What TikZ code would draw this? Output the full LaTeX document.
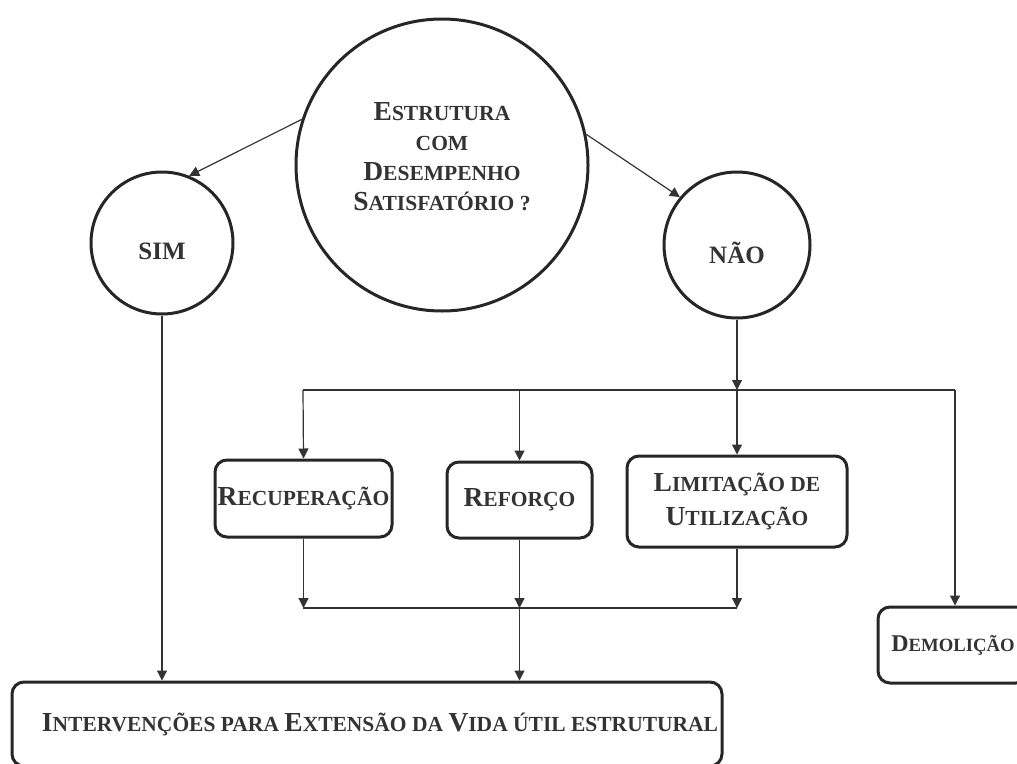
\documentclass[tikz,border=0pt]{standalone}
\usepackage{fontspec}
\setmainfont{Liberation Serif}
\usetikzlibrary{arrows.meta}
\newcommand\bigL[1]{{\fontsize{27.5}{30}\selectfont #1}}
\newcommand\smL[1]{{\fontsize{21.5}{30}\selectfont #1}}
\newcommand\lowered[1]{\raisebox{-8pt}[\height][\depth]{#1}}
\begin{document}
\begin{tikzpicture}[x=1pt,y=-1pt,
  ink/.style={draw=black!85},
  txt/.style={align=center, text=black!80, font=\bfseries\fontsize{21.5}{30}\selectfont, inner sep=0pt},
  bubble/.style={circle, ink, line width=3pt, inner sep=0pt, txt},
  rbox/.style={rectangle, rounded corners=12pt, ink, line width=3pt, txt},
  conn/.style={draw=black!80, line width=1.2pt},
  arr/.style={conn, -{Triangle[width=10pt,length=10pt]}}]
\fill[white] (0,0) rectangle (1017,763);
\clip (0,0) rectangle (1017,763);

\node[bubble, minimum size=292pt] (q) at (442,165) {};
\node[txt] (qtext) at (442,157) {\bigL{E}\smL{STRUTURA}\\ \smL{COM}\\ \bigL{D}\smL{ESEMPENHO}\\ \bigL{S}\smL{ATISFATÓRIO ?}};
\node[bubble, minimum size=142pt] (sim) at (162,243) {\lowered{\fontsize{25}{30}\selectfont SIM}};
\node[bubble, minimum size=146pt] (nao) at (737,245) {\lowered{\fontsize{25}{30}\selectfont NÃO}};

\node[rbox, minimum width=177pt, minimum height=77pt] (rec) at (303.5,498.5) {\bigL{R}\smL{ECUPERAÇÃO}};
\node[rbox, minimum width=145pt, minimum height=76pt] (ref) at (519.5,500) {\bigL{R}\smL{EFORÇO}};
\node[rbox, minimum width=220pt, minimum height=91pt] (lim) at (737,501.5) {\raisebox{4pt}{\bigL{L}\smL{IMITAÇÃO DE}}\\ \bigL{U}\smL{TILIZAÇÃO}};
\node[rbox, minimum width=150pt, minimum height=76pt] (dem) at (953,645) {{\fontsize{24}{30}\selectfont D}{\fontsize{18.7}{30}\selectfont EMOLIÇÃO}};
\node[rbox, minimum width=710pt, minimum height=84pt] (bot) at (367,724) {\hspace*{26pt}\bigL{I}\smL{NTERVENÇÕES PARA} \bigL{E}\smL{XTENSÃO DA} \bigL{V}\smL{IDA ÚTIL ESTRUTURAL}};

\coordinate (j1) at (737,390);
\coordinate (hl) at (303,390);
\coordinate (hr) at (955,390);
\coordinate (lj) at (303,608);
\coordinate (lr) at (737,608);

\draw[arr] (q.162) -- (sim.68);
\draw[arr] (q.12) -- (nao.140);
\draw[arr] (sim.south) -- (sim.south |- bot.north);
\draw[arr] (nao.south) -- (j1);
\draw[arr] (j1) -- (lim.north);
\draw[conn] (hl) -- (hr);
\draw[arr] (hl) -- (rec.north);
\draw[arr] (ref.north |- hl) -- (ref.north);
\draw[arr] (hr) -- (hr |- dem.north);
\draw[arr] (rec.south) -- (rec.south |- lj);
\draw[arr] (ref.south) -- (ref.south |- lj);
\draw[arr] (lim.south) -- (lr);
\draw[conn] (lj) -- (lr);
\draw[arr] (ref.south |- lj) -- (ref.south |- bot.north);
\end{tikzpicture}
\end{document}
